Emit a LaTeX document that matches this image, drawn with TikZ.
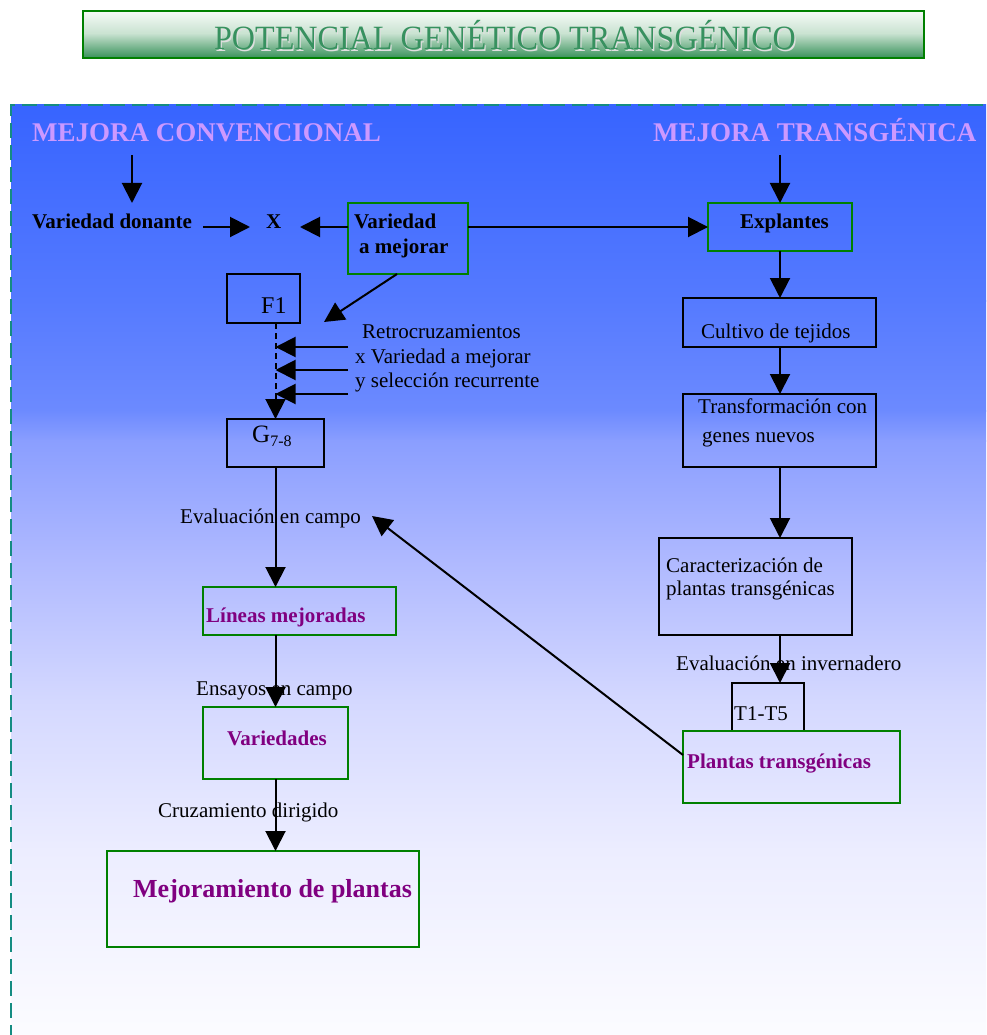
\documentclass[tikz,border=0pt]{standalone}
\usepackage{fontspec}
\setmainfont{Liberation Serif}
\usetikzlibrary{arrows.meta}

\definecolor{boxgreen}{RGB}{0,128,0}
\definecolor{lilac}{RGB}{204,153,255}
\definecolor{plum}{RGB}{128,0,128}
\definecolor{titlegreen}{RGB}{55,145,95}
\definecolor{bordteal}{RGB}{20,140,130}
\definecolor{bgA}{RGB}{55,100,255}
\definecolor{bgB}{RGB}{85,122,255}
\definecolor{bgC}{RGB}{108,138,255}
\definecolor{bgD}{RGB}{138,158,255}
\definecolor{bgE}{RGB}{175,185,255}
\definecolor{bgF}{RGB}{212,216,255}
\definecolor{bgG}{RGB}{236,237,255}
\definecolor{bgH}{RGB}{252,252,255}
\definecolor{banTop}{RGB}{246,250,247}
\definecolor{banMid}{RGB}{200,226,208}
\definecolor{banBot}{RGB}{55,145,90}

\begin{document}
\begin{tikzpicture}[x=1pt,y=-1pt,
  arr/.style={line width=2pt,-{Triangle[width=20pt,length=20pt]}},
  gbox/.style={draw=boxgreen,line width=2pt,anchor=north west,inner sep=0pt,outer sep=0pt},
  kbox/.style={draw=black,line width=2pt,anchor=north west,inner sep=0pt,outer sep=0pt},
  lbl/.style={anchor=base west,inner sep=0pt,font=\fontsize{21}{25}\selectfont},
  lblb/.style={anchor=base west,inner sep=0pt,font=\fontsize{21}{25}\selectfont\bfseries},
  lblp/.style={lblb,text=plum},
  head/.style={anchor=base west,inner sep=0pt,text=lilac,font=\fontsize{27}{32}\selectfont\bfseries}]

\clip (0,0) rectangle (986,1035);
\fill[white] (0,0) rectangle (986,1035);

% title banner
\shade[top color=banTop,bottom color=banMid] (83,11) rectangle (924,34);
\shade[top color=banMid,bottom color=banBot] (83,33.5) rectangle (924,58);
\node[draw=boxgreen,line width=2pt,anchor=north west,inner sep=0pt,outer sep=0pt,
      minimum width=841pt,minimum height=47pt] (banner) at (83,11) {};
\node[anchor=base,inner sep=0pt,text=white!75!gray,font=\fontsize{34}{40}\selectfont]
  at (506.2,51.2) {\scalebox{0.945}[1]{POTENCIAL GENÉTICO TRANSGÉNICO}};
\node[anchor=base,inner sep=0pt,text=titlegreen,font=\fontsize{34}{40}\selectfont]
  (title) at (505,50) {\scalebox{0.945}[1]{POTENCIAL GENÉTICO TRANSGÉNICO}};

% background panel with vertical gradient
\shade[top color=bgA,bottom color=bgB] (11,105) rectangle (990,301);
\shade[top color=bgB,bottom color=bgC] (11,300) rectangle (990,411);
\shade[top color=bgC,bottom color=bgD] (11,410) rectangle (990,441);
\shade[top color=bgD,bottom color=bgE] (11,440) rectangle (990,561);
\shade[top color=bgE,bottom color=bgF] (11,560) rectangle (990,701);
\shade[top color=bgF,bottom color=bgG] (11,700) rectangle (990,851);
\shade[top color=bgG,bottom color=bgH] (11,850) rectangle (990,1040);
\draw[bordteal,line width=2pt,dash pattern=on 15pt off 7pt] (11,1040) -- (11,105) -- (990,105);

% column headings
\node[head] (mc) at (32,142) {MEJORA CONVENCIONAL};
\node[head] (mt) at (653,142) {MEJORA TRANSGÉNICA};

% boxes
\node[gbox,minimum width=120pt,minimum height=71pt] (var) at (348,203) {};
\node[gbox,minimum width=144pt,minimum height=48pt] (expl) at (708,203) {};
\node[kbox,minimum width=73pt,minimum height=49pt] (f1) at (227,274) {};
\node[kbox,minimum width=97pt,minimum height=48pt] (g78) at (227,419) {};
\node[kbox,minimum width=193pt,minimum height=49pt] (cult) at (683,298) {};
\node[kbox,minimum width=193pt,minimum height=73pt] (transf) at (683,394) {};
\node[kbox,minimum width=193pt,minimum height=97pt] (carac) at (659,538) {};
\node[kbox,minimum width=72pt,minimum height=48pt] (t15) at (732,683) {};
\node[gbox,minimum width=217pt,minimum height=72pt] (plt) at (683,731) {};
\node[gbox,minimum width=193pt,minimum height=48pt] (lin) at (203,587) {};
\node[gbox,minimum width=145pt,minimum height=72pt] (vari) at (203,707) {};
\node[gbox,minimum width=312pt,minimum height=96pt] (mejo) at (107,851) {};

% texts
\node[lblb] (vdon) at (32,228) {Variedad donante};
\node[lblb] (xm) at (266,228) {X};
\node[lblb] (vtxt1) at (354,228) {Variedad};
\node[lblb] (vtxt2) at (359,253) {a mejorar};
\node[lblb] (etxt) at (740,228) {Explantes};
\node[lbl,font=\fontsize{24}{28}\selectfont] (f1txt) at (261,313) {F1};
\node[lbl] (rt1) at (362,338) {Retrocruzamientos};
\node[lbl] (rt2) at (355,363) {x Variedad a mejorar};
\node[lbl] (rt3) at (355,387) {y selección recurrente};
\node[lbl,font=\fontsize{25}{28}\selectfont] (gtxt) at (252,442)
  {G\raisebox{-4pt}{\fontsize{16}{18}\selectfont 7-8}};
\node[lbl] (ctxt) at (701,338) {Cultivo de tejidos};
\node[lbl] (tt1) at (698,413) {Transformación con};
\node[lbl] (tt2) at (702,442) {genes nuevos};
\node[lbl] (ct1) at (666,572) {Caracterización de};
\node[lbl] (ct2) at (666,595) {plantas transgénicas};
\node[lbl] (evinv) at (676,670) {Evaluación en invernadero};
\node[lbl] (t15txt) at (734,720) {T1-T5};
\node[lblp] (ptxt) at (687,768) {Plantas transgénicas};
\node[lbl] (evcam) at (180,523) {Evaluación en campo};
\node[lblp] (ltxt) at (206,622) {Líneas mejoradas};
\node[lbl] (ens) at (196,695) {Ensayos en campo};
\node[lblp] (vartxt) at (227,745) {Variedades};
\node[lbl] (cruz) at (158,817) {Cruzamiento dirigido};
\node[anchor=base west,inner sep=0pt,text=plum,font=\fontsize{26}{30}\selectfont\bfseries]
  (mtxt) at (133,897) {Mejoramiento de plantas};

% connector end points
\coordinate (mcA) at (132,155);
\coordinate (mcB) at (132,203);
\coordinate (mtA) at (780,155);
\coordinate (vdA) at (203,227);
\coordinate (vdB) at (250,227);
\coordinate (xR) at (300,227);
\coordinate (vS) at (397,274);
\coordinate (f1T) at (324,322);
\coordinate (r1) at (348,347);
\coordinate (r2) at (348,370);
\coordinate (r3) at (348,394);
\coordinate (campo) at (372,516);

% connectors
\draw[arr] (mcA) -- (mcB);
\draw[arr] (mtA) -- (expl.north);
\draw[arr] (vdA) -- (vdB);
\draw[arr] (var.west |- expl.west) -- (xR);
\draw[arr] (var.east |- expl.west) -- (expl.west);
\draw[arr] (vS) -- (f1T);
\draw[line width=2pt,dash pattern=on 6pt off 4pt,-{Triangle[width=20pt,length=20pt]}]
  (g78.north |- f1.south) -- (g78.north);
\draw[arr] (r1) -- (r1 -| g78.north);
\draw[arr] (r2) -- (r2 -| g78.north);
\draw[arr] (r3) -- (r3 -| g78.north);
\draw[arr] (g78.south) -- (g78.south |- lin.north);
\draw[arr] (vari.north |- lin.south) -- (vari.north);
\draw[arr] (vari.south) -- (vari.south |- mejo.north);
\draw[arr] (expl.south) -- (expl.south |- cult.north);
\draw[arr] (expl.south |- cult.south) -- (expl.south |- transf.north);
\draw[arr] (expl.south |- transf.south) -- (expl.south |- carac.north);
\draw[arr] (expl.south |- carac.south) -- (expl.south |- t15.north);
\draw[arr] ([yshift=12pt]plt.west) -- (campo);
\end{tikzpicture}
\end{document}
